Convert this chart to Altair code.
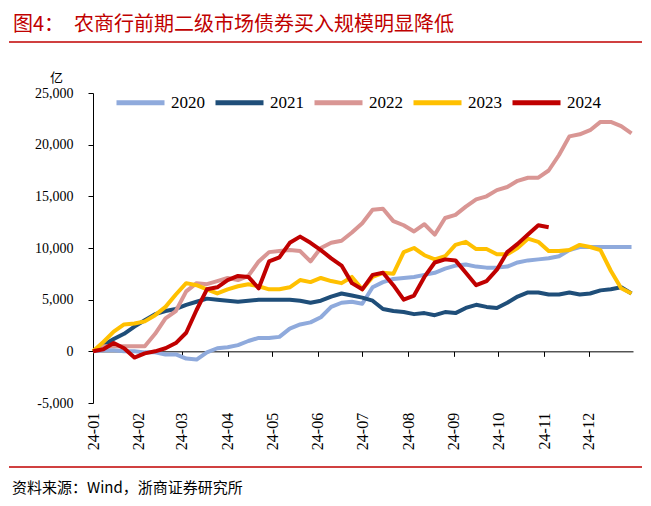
import altair as alt
import pandas as pd

dates = ["2024-01-01","2024-01-08","2024-01-15","2024-01-22","2024-01-29",
         "2024-02-05","2024-02-12","2024-02-19","2024-02-26",
         "2024-03-04","2024-03-11","2024-03-18","2024-03-25",
         "2024-04-01","2024-04-08","2024-04-15","2024-04-22","2024-04-29",
         "2024-05-06","2024-05-13","2024-05-20","2024-05-27",
         "2024-06-03","2024-06-10","2024-06-17","2024-06-24",
         "2024-07-01","2024-07-08","2024-07-15","2024-07-22","2024-07-29",
         "2024-08-05","2024-08-12","2024-08-19","2024-08-26",
         "2024-09-02","2024-09-09","2024-09-16","2024-09-23","2024-09-30",
         "2024-10-07","2024-10-14","2024-10-21","2024-10-28",
         "2024-11-04","2024-11-11","2024-11-18","2024-11-25",
         "2024-12-02","2024-12-09","2024-12-16","2024-12-23","2024-12-30"]

v2020 = [0,100,100,0,0,-100,-100,-300,-300,-700,-800,-100,300,400,600,1000,1300,1300,
         1400,2200,2600,2800,3300,4300,4700,4800,4600,6200,6700,7000,7100,7200,7400,7600,
         8000,8300,8400,8200,8100,8100,8200,8600,8800,8900,9000,9200,9800,10100,10100,
         10100,10100,10100,10100]
v2021 = [0,600,1200,1700,2400,3000,3600,3900,4100,4500,4800,5100,5000,4900,4800,4900,
         5000,5000,5000,5000,4900,4700,4900,5300,5600,5400,5200,4900,4100,3900,3800,3600,
         3700,3500,3800,3700,4200,4500,4300,4200,4700,5300,5700,5700,5500,5500,5700,5500,
         5600,5900,6000,6200,5600]
v2022 = [0,500,500,500,500,500,1700,3200,3900,5800,6600,6500,6800,7100,6900,7300,8700,
         9600,9700,9800,9700,8700,10000,10500,10700,11500,12400,13700,13800,12600,12200,
         11600,12300,11300,12900,13200,14000,14700,15000,15600,15900,16500,16800,16800,
         17500,19000,20800,21000,21400,22200,22200,21800,21100]
v2023 = [0,900,1900,2600,2700,2900,3500,4300,5500,6600,6400,6000,5600,6000,6300,6500,
         6300,6000,6000,6200,6900,6700,7100,6800,6600,7200,6000,7200,7600,7500,9600,10000,
         9300,8900,9200,10300,10600,9900,9900,9400,9400,10000,10900,10600,9700,9700,9800,
         10300,10100,9800,7800,6100,5600]
v2024 = [0,200,800,300,-600,-200,0,300,800,1800,4000,6000,6200,6900,7300,7200,6100,
         8700,9100,10500,11100,10500,9800,9000,8300,6600,6000,7400,7600,6400,5000,5400,
         7200,8600,8900,8800,7600,6400,6800,7900,9600,10400,11300,12200,12000,
         None,None,None,None,None,None,None,None]

series_names = ["2020", "2021", "2022", "2023", "2024"]
series_colors = ["#8FAADC", "#1F4E79", "#D99694", "#FFC000", "#C00000"]
y_ticks = [-5000, 0, 5000, 10000, 15000, 20000, 25000]
month_ticks = [1, 2, 3, 4, 5, 6, 7, 8, 9, 10, 11, 12]

title_prefix = "图4："
title_text = "农商行前期二级市场债券买入规模明显降低"
unit_text = "亿"
source_text = "资料来源：Wind，浙商证券研究所"

rows = []
for name, vals in zip(series_names, [v2020, v2021, v2022, v2023, v2024]):
    for d, v in zip(dates, vals):
        if v is not None:
            rows.append({"date": d, "series": name, "value": v})
df = pd.DataFrame(rows)

serif = "Liberation Serif"
cjk = "Noto Sans CJK SC"
red = "#C00000"

lines = alt.Chart(df).mark_line(strokeWidth=4, strokeJoin="round").encode(
    x=alt.X("date:T",
            scale=alt.Scale(domain=[alt.DateTime(year=2024, month=1, date=1, utc=True),
                                    alt.DateTime(year=2024, month=12, date=31, utc=True)]),
            axis=alt.Axis(title=None,
                          values=[alt.DateTime(year=2024, month=m, date=1, utc=True) for m in month_ticks],
                          labelExpr="utcFormat(datum.value, '%y-%m')",
                          labelAngle=270, offset=-51.67, domainColor="black", tickColor="black",
                          tickSize=5, labelPadding=56, labelFont=serif, labelFontSize=16,
                          labelColor="black", grid=False, labelFlush=False, labelOverlap=False)),
    y=alt.Y("value:Q",
            scale=alt.Scale(domain=[-5000, 25000], nice=False),
            axis=alt.Axis(title=None, values=y_ticks,
                          labelExpr="replace(format(datum.value, ',.0f'), '\u2212', '-')",
                          domainColor="black",
                          tickColor="black", tickSize=5, labelPadding=15, labelFont=serif,
                          labelFontSize=14, labelColor="black", grid=False)),
    color=alt.Color("series:N",
                    scale=alt.Scale(domain=series_names, range=series_colors),
                    legend=alt.Legend(orient="none", legendX=21, legendY=-17,
                                      direction="horizontal", title=None, symbolType="stroke",
                                      symbolSize=2304, symbolStrokeWidth=5, labelFont=serif,
                                      labelFontSize=17, labelColor="black", labelOffset=4,
                                      columnPadding=0, padding=0)),
    order=alt.Order("date:T"),
)

def text_layer(txt, x, y, size, color, font, align="left"):
    return alt.Chart(pd.DataFrame({"t": [txt]})).mark_text(
        align=align, baseline="middle", fontSize=size, color=color, font=font
    ).encode(x=alt.value(x), y=alt.value(y), text="t:N")

t1 = text_layer(title_prefix, -80, -68, 20, red, cjk)
t2 = text_layer(title_text, -19, -68, 20, red, cjk)
unit = text_layer(unit_text, -43, -15, 13, "black", cjk)
src = text_layer(source_text, -81, 395, 15, "black", cjk)

rule_top = alt.Chart(pd.DataFrame({"a": [0]})).mark_rule(color=red, strokeWidth=1.5).encode(
    x=alt.value(-84), x2=alt.value(549), y=alt.value(-51))
rule_bot = alt.Chart(pd.DataFrame({"a": [0]})).mark_rule(color=red, strokeWidth=1.5).encode(
    x=alt.value(-84), x2=alt.value(549), y=alt.value(374))

chart = alt.layer(lines, t1, t2, unit, src, rule_top, rule_bot).properties(
    width=540, height=310,
    autosize=alt.AutoSizeParams(type="none"),
    padding={"left": 85, "top": 85, "right": 10, "bottom": 95},
    background="white",
).configure_view(stroke=None)

chart.save("out.html", embed_options={"renderer": "svg", "actions": False})
